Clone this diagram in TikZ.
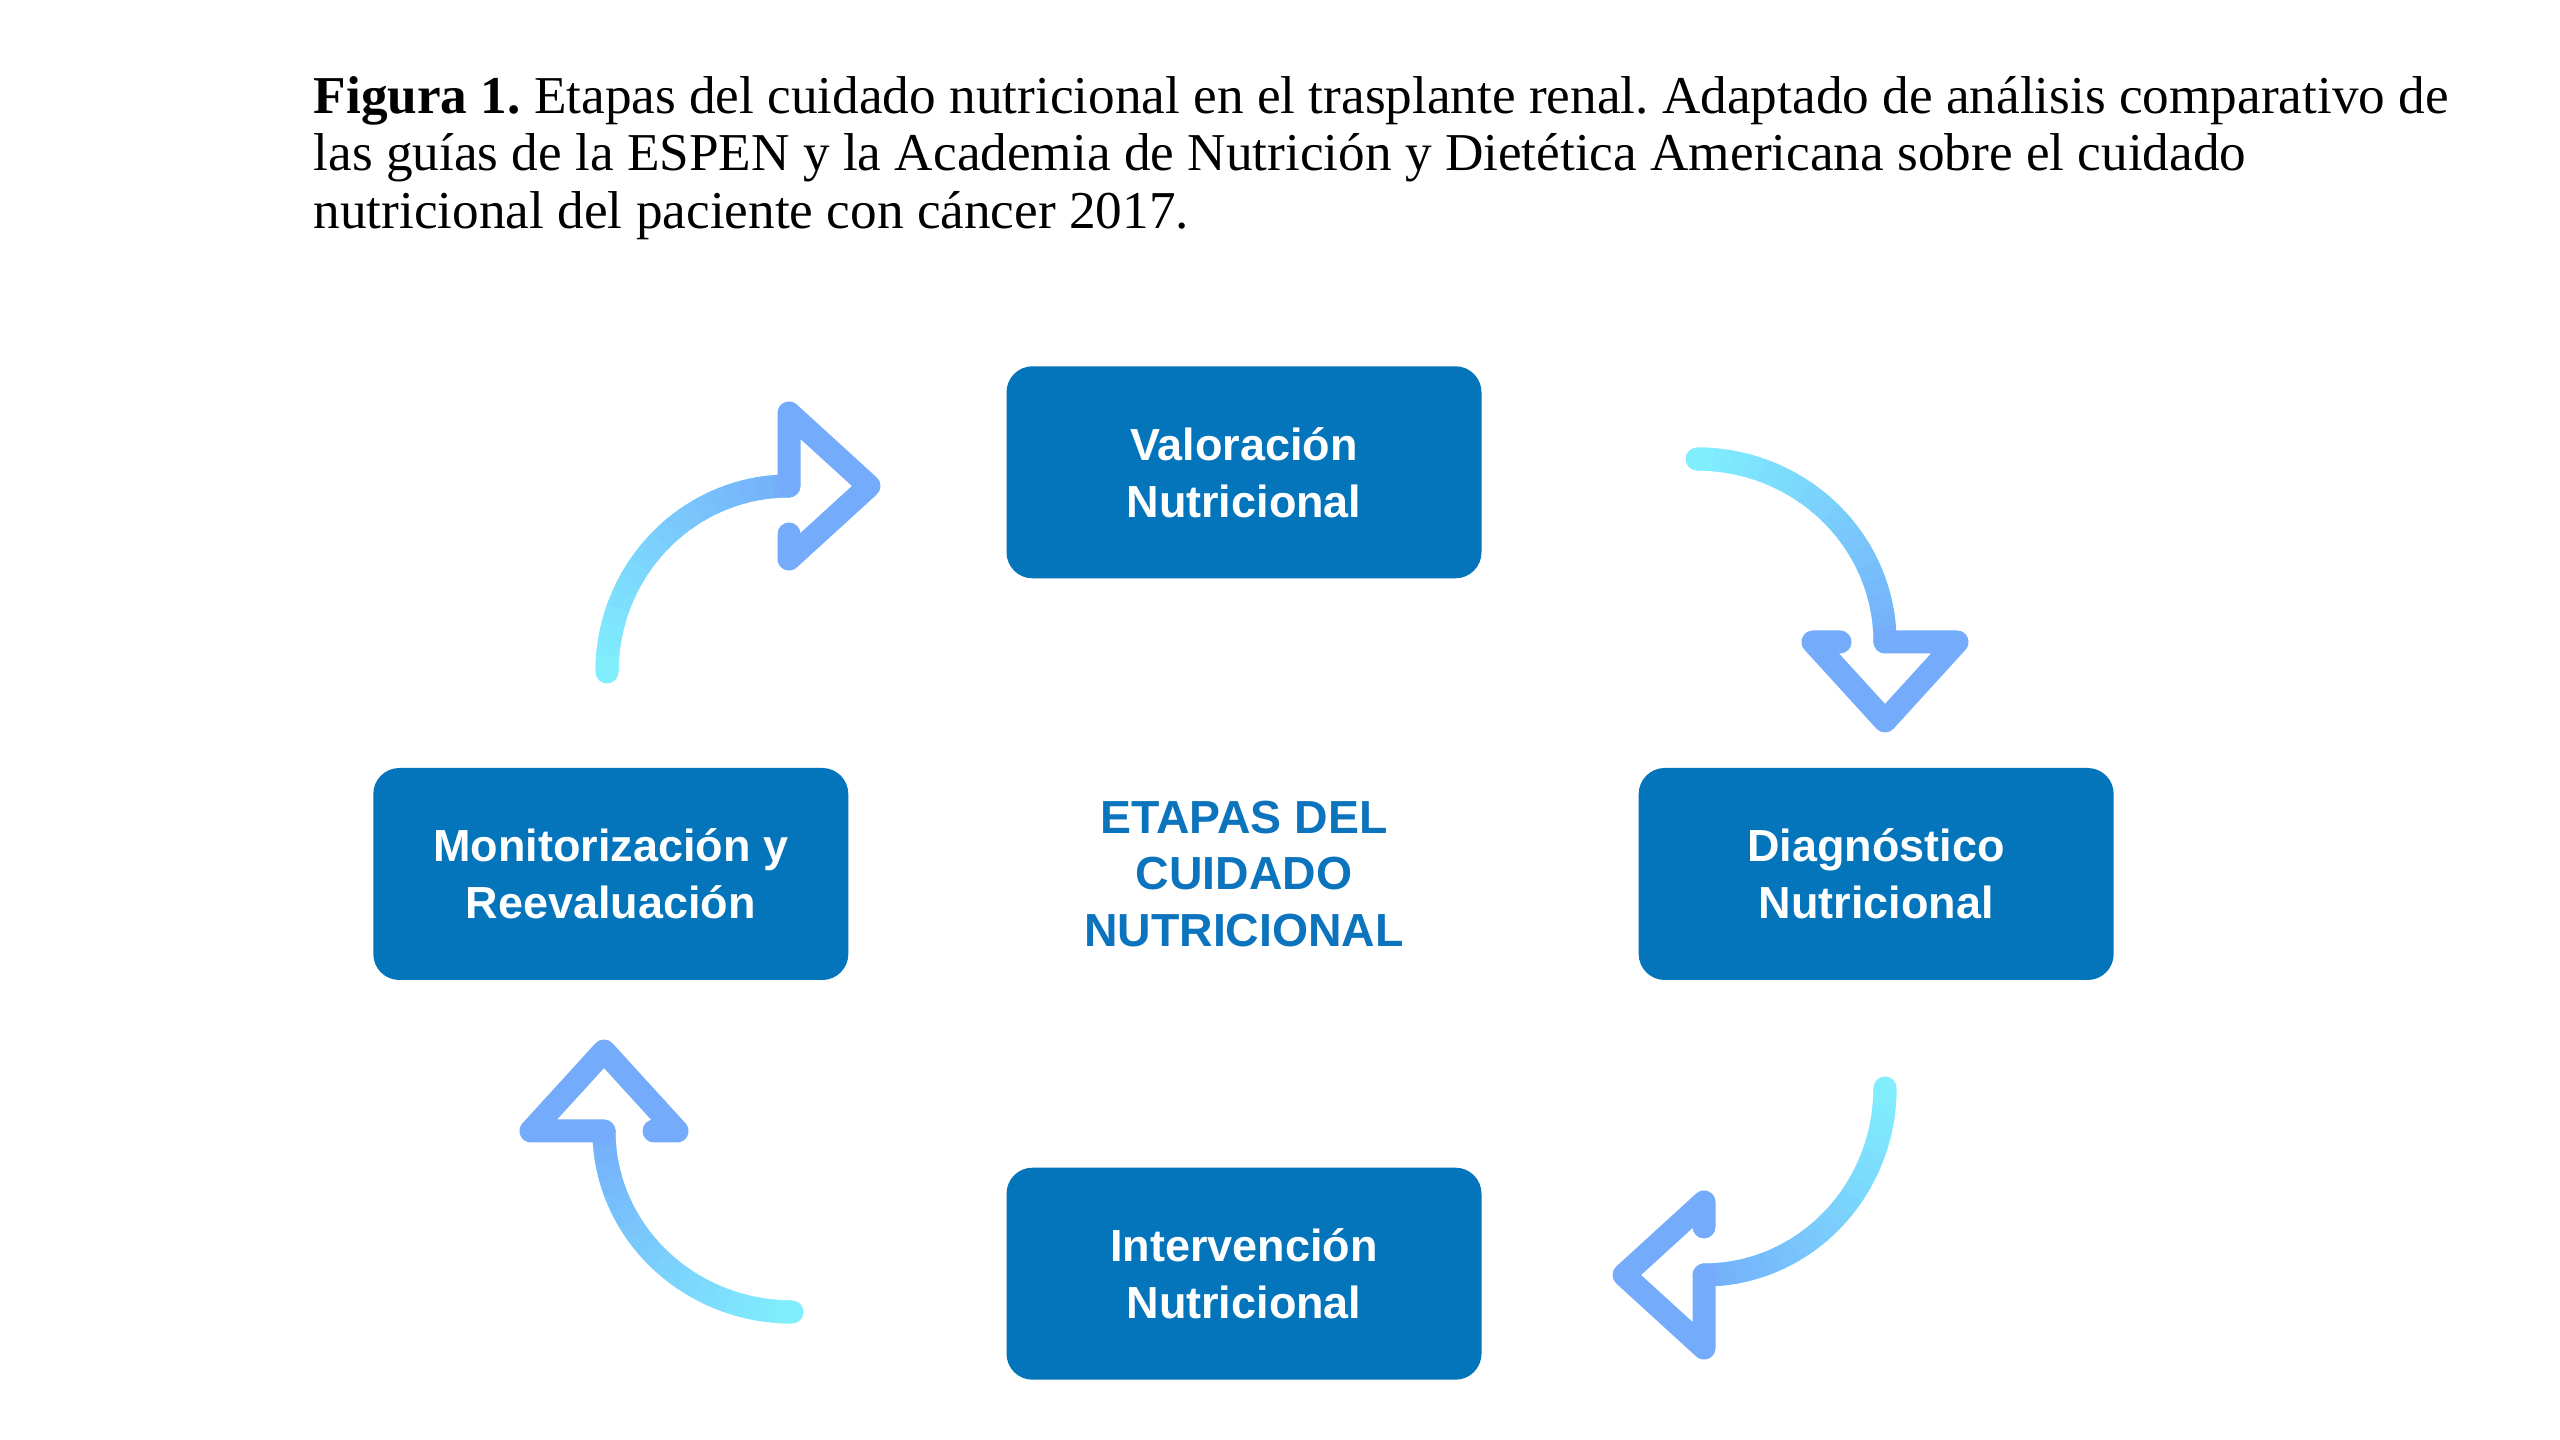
\documentclass[tikz,border=0pt]{standalone}
\usepackage{fontspec}
\setmainfont{Liberation Serif}
\setsansfont{Liberation Sans}
\usetikzlibrary{positioning,calc}
\definecolor{boxblue}{HTML}{0474BB}
\definecolor{hubblue}{HTML}{0B74BD}
\definecolor{arrcyan}{HTML}{80EEFD}
\definecolor{arrblue}{HTML}{74ABFB}
\frenchspacing

\begin{document}
\begin{tikzpicture}[
  x=0.1mm, y=-0.1mm,
  stage/.style={fill=boxblue, rounded corners=2.6mm, text=white, font=\fontsize{12.8}{16.2}\selectfont\sffamily\bfseries, align=center, minimum width=47.5mm, minimum height=21.2mm, inner sep=0pt},
  hub/.style={text=hubblue, font=\fontsize{13.2}{16.2}\selectfont\sffamily\bfseries, align=center, inner sep=0pt},
  capline/.style={anchor=base west, inner sep=0pt, font=\fontsize{15.15}{17}\selectfont},
  shaft/.style={line width=2.3mm, line cap=butt},
  arrhead/.style={line width=2.3mm, line cap=round, line join=round, draw=arrblue},
]
  \fill[white] (0,0) rectangle (2560,1440);
  \useasboundingbox (0,0) rectangle (2560,1440);

  % Caption
  \node[capline] (cap1) at (313,114) {\textbf{Figura 1.} Etapas del cuidado nutricional en el trasplante renal. Adaptado de análisis comparativo de};
  \node[capline] (cap2) at (313,171) {las guías de la ESPEN y la Academia de Nutrición y Dietética Americana sobre el cuidado};
  \node[capline] (cap3) at (313,229) {nutricional del paciente con cáncer 2017.};

  % Centre label and the four stages
  \node[hub] (hub) at (1244,874) {ETAPAS DEL\\CUIDADO\\NUTRICIONAL};
  \node[stage, above=29.5mm of hub.center] (val) {Valoración\\Nutricional};
  \node[stage, right=39.4mm of hub.center] (diag) {Diagnóstico\\Nutricional};
  \node[stage, below=29.3mm of hub.center] (interv) {Intervención\\Nutricional};
  \node[stage, left=39.5mm of hub.center] (monit) {Monitorización y\\Reevaluación};

  % Arc centres and head joints of the curved arrows
  \coordinate (cA) at (789,672);
  \coordinate (cB) at (1697,642);
  \coordinate (cC) at (1704,1088);
  \coordinate (cD) at (792,1131);
  \coordinate (jA) at (789,486);
  \coordinate (jB) at (1885,642);
  \coordinate (jC) at (1704,1275);
  \coordinate (jD) at (604,1131);

  % Shafts, cyan fading into blue
  \foreach \c/\rx/\ry/\a in {cA/182/186/180, cB/188/183/270, cC/181/187/0, cD/188/181/90} {
    \draw[shaft, line cap=round, draw=arrcyan] ($(\c)+(\a:\rx\space and \ry)$) arc[start angle=\a, delta angle=90, x radius=\rx, y radius=\ry];
    \foreach \k in {0,...,17} {
      \pgfmathtruncatemacro\p{100-\k*5.5}
      \pgfmathsetmacro\s{\a+\k*5}
      \draw[shaft, draw=arrcyan!\p!arrblue] ($(\c)+(\s:\rx\space and \ry)$) arc[start angle=\s, delta angle=5.5, x radius=\rx, y radius=\ry];
    }
  }

  % Open heads
  \draw[arrhead] (jA) -- ++(0,-73) -- ++(80,73) -- ++(-80,73) -- ++(0,-25);
  \draw[arrhead] (jB) -- ++(72,0) -- ++(-72,79) -- ++(-72,-79) -- ++(27,0);
  \draw[arrhead] (jC) -- ++(0,73) -- ++(-80,-73) -- ++(80,-73) -- ++(0,25);
  \draw[arrhead] (jD) -- ++(-73,0) -- ++(73,-80) -- ++(73,80) -- ++(-23,0);
\end{tikzpicture}
\end{document}
